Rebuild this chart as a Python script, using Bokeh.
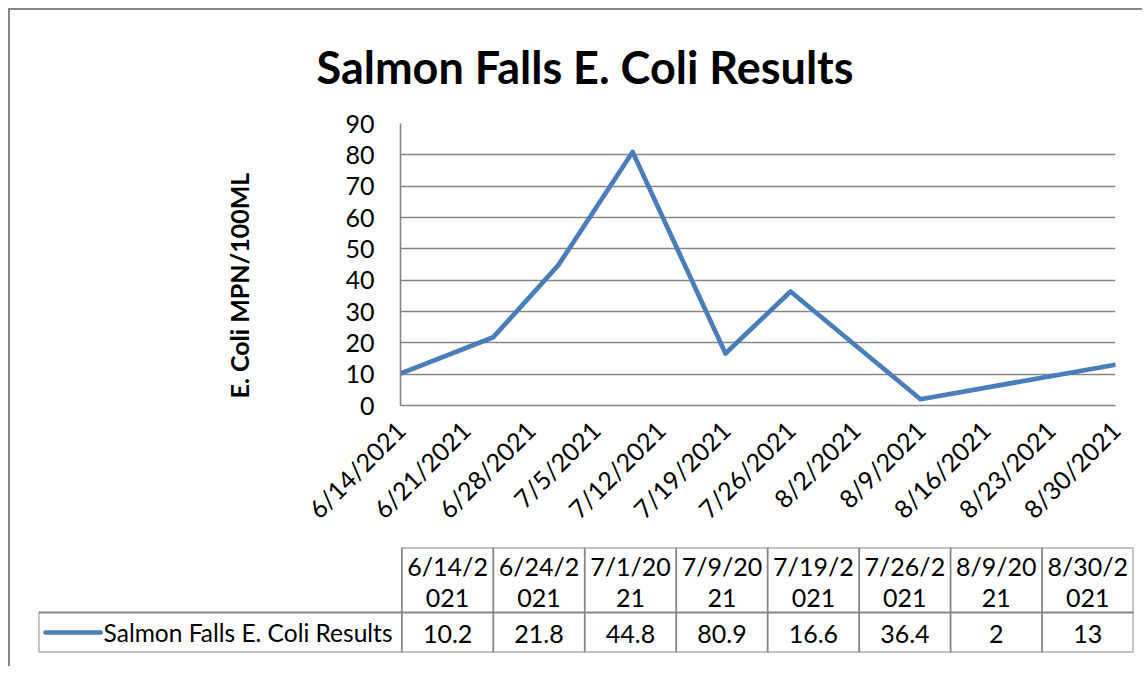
import pandas as pd
from math import pi
from bokeh.plotting import figure
from bokeh.models import Range1d, FixedTicker, Title
from bokeh.embed import file_html
from bokeh.resources import INLINE

# ---- data ----
title_text = "Salmon Falls E. Coli Results"
y_label = "E. Coli MPN/100ML"
series_name = "Salmon Falls E. Coli Results"
sample_dates = ["6/14/2021", "6/24/2021", "7/1/2021", "7/9/2021",
                "7/19/2021", "7/26/2021", "8/9/2021", "8/30/2021"]
ecoli_values = [10.2, 21.8, 44.8, 80.9, 16.6, 36.4, 2, 13]
week_ticks = ["6/14/2021", "6/21/2021", "6/28/2021", "7/5/2021", "7/12/2021",
              "7/19/2021", "7/26/2021", "8/2/2021", "8/9/2021", "8/16/2021",
              "8/23/2021", "8/30/2021"]
y_ticks = [0, 10, 20, 30, 40, 50, 60, 70, 80, 90]
value_labels = ["10.2", "21.8", "44.8", "80.9", "16.6", "36.4", "2", "13"]

FONT = "Lato"
GRAY = "#868686"
BLUE = "#4A7EBB"

start = pd.to_datetime(week_ticks[0])
x_days = [(pd.to_datetime(d) - start).days for d in sample_dates]
tick_days = [(pd.to_datetime(d) - start).days for d in week_ticks]

# ---- main chart ----
p = figure(width=1134, height=527, output_backend="svg", toolbar_location=None,
           x_range=Range1d(tick_days[0], tick_days[-1]), y_range=Range1d(y_ticks[0], y_ticks[-1]),
           min_border_left=390, min_border_right=29, min_border_top=113, min_border_bottom=130)
p.styles = {"border-left": "2px solid #868686", "border-top": "2px solid #868686",
            "margin-left": "8px", "margin-top": "8px"}
p.outline_line_color = None
p.background_fill_color = "white"
p.border_fill_color = "white"

p.title.text = title_text
p.title.text_font = FONT
p.title.text_font_style = "bold"
p.title.text_font_size = "45px"
p.title.text_color = "black"
p.title.align = "left"
p.title.vertical_align = "top"
p.title.offset = -84
p.title.standoff = 56

# vertical axis title, placed as a left-side title
p.add_layout(Title(text=y_label, text_font=FONT, text_font_style="bold",
                   text_font_size="25px", text_color="black",
                   align="left", vertical_align="bottom", offset=7, standoff=178), "left")

p.xgrid.visible = False
p.ygrid.ticker = FixedTicker(ticks=y_ticks)
p.ygrid.grid_line_color = GRAY
p.ygrid.grid_line_width = 1.6

p.yaxis.ticker = FixedTicker(ticks=y_ticks)
p.yaxis.major_label_standoff = 20

p.xaxis.ticker = FixedTicker(ticks=tick_days)
p.xaxis.major_label_overrides = {d: lbl for d, lbl in zip(tick_days, week_ticks)}
p.xaxis.major_label_orientation = pi / 4
p.xaxis.major_label_standoff = 14

for ax in (p.xaxis[0], p.yaxis[0]):
    ax.axis_line_color = GRAY
    ax.axis_line_width = 1.6
    ax.major_tick_line_color = None
    ax.minor_tick_line_color = None
    ax.major_label_text_font = FONT
    ax.major_label_text_font_size = "25px"
    ax.major_label_text_color = "black"

p.line(x_days, ecoli_values, line_color=BLUE, line_width=4.7,
       line_join="round", line_cap="round")

# ---- data table ----
t = figure(width=1134, height=131, output_backend="svg", toolbar_location=None,
           x_range=Range1d(38, 1131), y_range=Range1d(0, 105),
           min_border_left=28, min_border_right=11, min_border_top=12, min_border_bottom=14)
t.styles = {"border-left": "2px solid #868686", "margin-left": "8px"}
t.axis.visible = False
t.grid.visible = False
t.outline_line_color = None

n = len(sample_dates)
x_left = 400.7
col_w = (1131 - x_left) / n
row_h = 40
bounds = [x_left + col_w * j for j in range(n + 1)]
centers = [x_left + col_w * (j + 0.5) for j in range(n)]

t.segment(x0=[x_left, 38, 38], y0=[105, row_h, 0], x1=[1131, 1131, 1131], y1=[105, row_h, 0],
          line_color=GRAY, line_width=1.8)
t.segment(x0=[38] + bounds, y0=[0] * (n + 2), x1=[38] + bounds, y1=[row_h] + [105] * (n + 1),
          line_color=GRAY, line_width=1.8)

head1 = [d[:6] for d in sample_dates]
head2 = [d[6:] for d in sample_dates]
t.text(x=centers, y=[87] * n, text=head1, text_font={"value": FONT}, text_font_size="25px",
       text_align="center", text_baseline="middle", text_color="black")
t.text(x=centers, y=[55] * n, text=head2, text_font={"value": FONT}, text_font_size="25px",
       text_align="center", text_baseline="middle", text_color="black")
t.text(x=centers, y=[19] * n, text=value_labels, text_font={"value": FONT}, text_font_size="25px",
       text_align="center", text_baseline="middle", text_color="black")

t.line(x=[45, 100], y=[20, 20], line_color=BLUE, line_width=4.7, line_cap="round")
t.text(x=[103], y=[20], text=[series_name], text_font={"value": FONT}, text_font_size="24.5px",
       text_align="left", text_baseline="middle", text_color="black")

open("out.html", "w").write(file_html([p, t], INLINE))
